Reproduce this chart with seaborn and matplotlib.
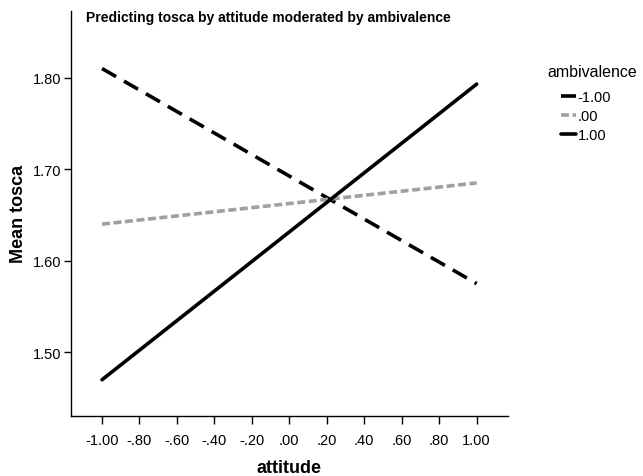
import matplotlib
matplotlib.use("Agg")
import matplotlib.pyplot as plt
import seaborn as sns
import pandas as pd
from matplotlib.lines import Line2D

attitude = [-1.0, 1.0]
levels = ["-1.00", ".00", "1.00"]
mean_neg = [1.810, 1.575]
mean_zero = [1.640, 1.685]
mean_pos = [1.470, 1.793]
x_ticks = [-1.0, -0.8, -0.6, -0.4, -0.2, 0.0, 0.2, 0.4, 0.6, 0.8, 1.0]
x_tick_labels = ["-1.00", "-.80", "-.60", "-.40", "-.20", ".00", ".20", ".40", ".60", ".80", "1.00"]
y_ticks = [1.50, 1.60, 1.70, 1.80]
y_tick_labels = ["1.50", "1.60", "1.70", "1.80"]

df = pd.DataFrame({
    "attitude": attitude * 3,
    "tosca": mean_neg + mean_zero + mean_pos,
    "ambivalence": [levels[0]] * 2 + [levels[1]] * 2 + [levels[2]] * 2,
})

sns.set_style("white")
plt.rcParams["font.family"] = ["Liberation Sans", "DejaVu Sans"]
plt.rcParams["text.color"] = "black"
plt.rcParams["axes.labelcolor"] = "black"
plt.rcParams["xtick.color"] = "black"
plt.rcParams["ytick.color"] = "black"

fig = plt.figure(figsize=(6.43, 4.77), dpi=100)
ax = fig.add_axes([0.110, 0.1258, 0.680, 0.8497])

palette = {"-1.00": "black", ".00": "#a0a0a0", "1.00": "black"}
dashes = {"-1.00": (4.5, 2.5), ".00": (2.2, 1.0), "1.00": ""}
sns.lineplot(data=df, x="attitude", y="tosca", hue="ambivalence", style="ambivalence",
             palette=palette, dashes=dashes, hue_order=levels, style_order=levels,
             linewidth=2.6, ax=ax, legend=False)

ax.set_xlim(-1.167, 1.167)
ax.set_ylim(1.4304, 1.8732)
ax.set_xticks(x_ticks)
ax.set_xticklabels(x_tick_labels, fontsize=10.5)
ax.set_yticks(y_ticks)
ax.set_yticklabels(y_tick_labels, fontsize=10.5)
for s in ["top", "right"]:
    ax.spines[s].set_visible(False)
for s in ["left", "bottom"]:
    ax.spines[s].set_color("black")
    ax.spines[s].set_linewidth(1.0)
ax.tick_params(axis="x", bottom=True, direction="out", length=6, width=1.0, color="black", pad=6)
ax.tick_params(axis="y", left=True, direction="out", length=5, width=1.0, color="black", pad=2)

ax.set_xlabel("attitude", fontsize=13, fontweight="bold", labelpad=9)
ax.set_ylabel("Mean tosca", fontsize=13, fontweight="bold", labelpad=4)
fig.text(86 / 643, 1 - 22 / 477, "Predicting tosca by attitude moderated by ambivalence",
         fontsize=10, fontweight="bold", ha="left", va="baseline")

# legend title and entries
fig.text(547 / 643, 1 - 77 / 477, "ambivalence", fontsize=11.5, ha="left", va="baseline")
handles = [Line2D([0], [0], color=palette[l], lw=2.6,
                  linestyle=(0, dashes[l]) if dashes[l] else "-") for l in levels]
leg = fig.legend(handles, levels, loc="upper left",
                 bbox_to_anchor=(561 / 643, 1 - 91 / 477), frameon=False, fontsize=10.5,
                 handlelength=1.05, handletextpad=0.1, borderpad=0,
                 labelspacing=0.35, borderaxespad=0)

fig.savefig("out.png", dpi=100)
